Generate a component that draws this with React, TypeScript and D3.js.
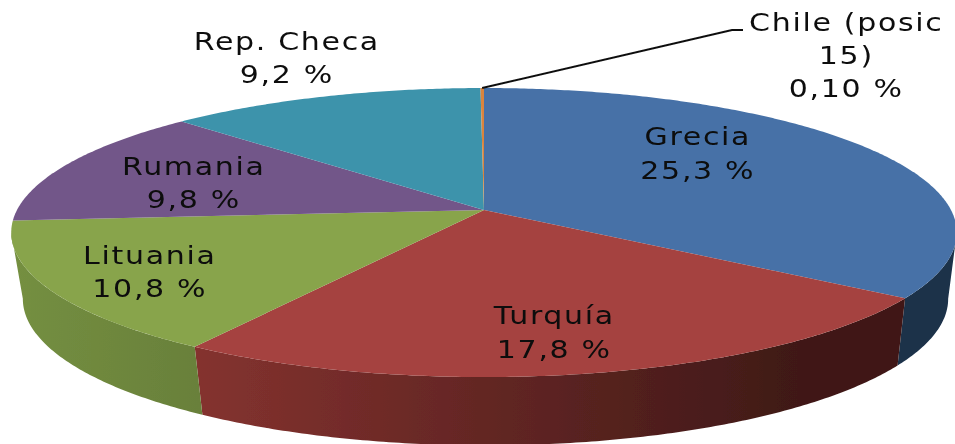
import React from "react";
import * as d3 from "d3";

const categories = ["Grecia", "Turquía", "Lituania", "Rumania", "Rep. Checa", "Chile"];
const shares = [25.3, 17.8, 10.8, 9.8, 9.2, 0.1];
const shareLabels = ["25,3 %", "17,8 %", "10,8 %", "9,8 %", "9,2 %", "0,10 %"];
const topColors = ["#4671a7", "#a5423f", "#88a44c", "#725689", "#3e93ab", "#da843c"];
const wallStops = [
  ["#1a3049", "#1a3049"],
  ["#84322f", "#3f1917"],
  ["#748f41", "#69803a"],
  ["#725689", "#725689"],
  ["#3e93ab", "#3e93ab"],
  ["#da843c", "#da843c"],
];

const W = 955;
const H = 444;
const PERSPECTIVE = 0.156;
const SILHOUETTE = Math.acos(-PERSPECTIVE);
const TEXT_STRETCH = 1.25;

const xTop = d3.scaleLinear().domain([-1, 1]).range([484 - 467, 484 + 467]);
const yTop = d3.scaleLinear().domain([-1, 1]).range([210 - 141, 210 + 141]);
const xBot = d3.scaleLinear().domain([-1, 1]).range([485.5 - 457, 485.5 + 457]);
const yBot = d3.scaleLinear().domain([-1, 1]).range([276 - 143, 276 + 143]);

type Pt = [number, number];
const proj = (a: number, xs: any, ys: any): Pt => {
  const u = Math.sin(a);
  const v = -Math.cos(a);
  const d = 1 - PERSPECTIVE * v;
  return [xs(u / d), ys(v / d)];
};
const rim = (a0: number, a1: number, xs: any, ys: any): Pt[] => {
  const n = Math.max(2, Math.ceil(Math.abs(a1 - a0) / 0.01));
  return d3.range(n + 1).map((i) => proj(a0 + ((a1 - a0) * i) / n, xs, ys));
};
const line = d3.line<Pt>();

const slices = d3.pie<number>().sort(null).value((d) => d)(shares);

const labelLayout = [
  { x: 697.8, y: 145, dy: 34 },
  { x: 554.3, y: 324, dy: 34 },
  { x: 149.8, y: 264, dy: 33 },
  { x: 193.8, y: 175, dy: 33 },
  { x: 286.8, y: 50, dy: 33 },
  { x: 846.3, y: 31, dy: 33 },
];
const labelLines = categories.map((c, i) =>
  c === "Chile" ? ["Chile (posic", "15)", shareLabels[i]] : [c, shareLabels[i]]
);

export default function App() {
  const apex: Pt = [xTop(0), yTop(0)];
  const chileAnchor = proj(slices[5].startAngle + 0.004, xTop, yTop);
  const leader: Pt[] = [chileAnchor, [732, 30], [743, 30]];
  return (
    <svg
      width={W}
      height={H}
      viewBox={`0 0 ${W} ${H}`}
      style={{ position: "absolute", left: 0, top: 0, display: "block", background: "#fff" }}
    >
      <defs>
        {wallStops.map((s, i) => (
          <linearGradient
            key={i}
            id={`wall${i}`}
            gradientUnits="userSpaceOnUse"
            x1={i === 2 ? 15 : 198}
            x2={i === 2 ? 200 : 800}
            y1={0}
            y2={0}
          >
            <stop offset="0" stopColor={s[0]} />
            <stop offset="1" stopColor={s[1]} />
          </linearGradient>
        ))}
        <filter id="soft" x="-5%" y="-5%" width="110%" height="110%">
          <feGaussianBlur stdDeviation="0.45" />
        </filter>
      </defs>
      <g filter="url(#soft)">
        {slices.map((s, i) => {
          const a0 = Math.max(s.startAngle, SILHOUETTE);
          const a1 = Math.min(s.endAngle, 2 * Math.PI - SILHOUETTE);
          if (a1 <= a0) return null;
          const pts = [...rim(a0, a1, xTop, yTop), ...rim(a1, a0, xBot, yBot)];
          return <path key={i} d={line(pts) + "Z"} fill={`url(#wall${i})`} />;
        })}
        {slices.map((s, i) => {
          const pts = [apex, ...rim(s.startAngle, s.endAngle, xTop, yTop)];
          return <path key={i} d={line(pts) + "Z"} fill={topColors[i]} />;
        })}
        <path d={line(leader) ?? ""} fill="none" stroke="#111" strokeWidth={2} />
        <g
          fontFamily="'DejaVu Sans', sans-serif"
          fontSize={24}
          letterSpacing={1.35}
          fill="#0c0c0c"
          textAnchor="middle"
        >
          {labelLines.map((lines, i) =>
            lines.map((t, j) => (
              <text
                key={j}
                transform={`translate(${labelLayout[i].x},${labelLayout[i].y + j * labelLayout[i].dy}) scale(${TEXT_STRETCH},1)`}
              >
                {t}
              </text>
            ))
          )}
        </g>
      </g>
    </svg>
  );
}
